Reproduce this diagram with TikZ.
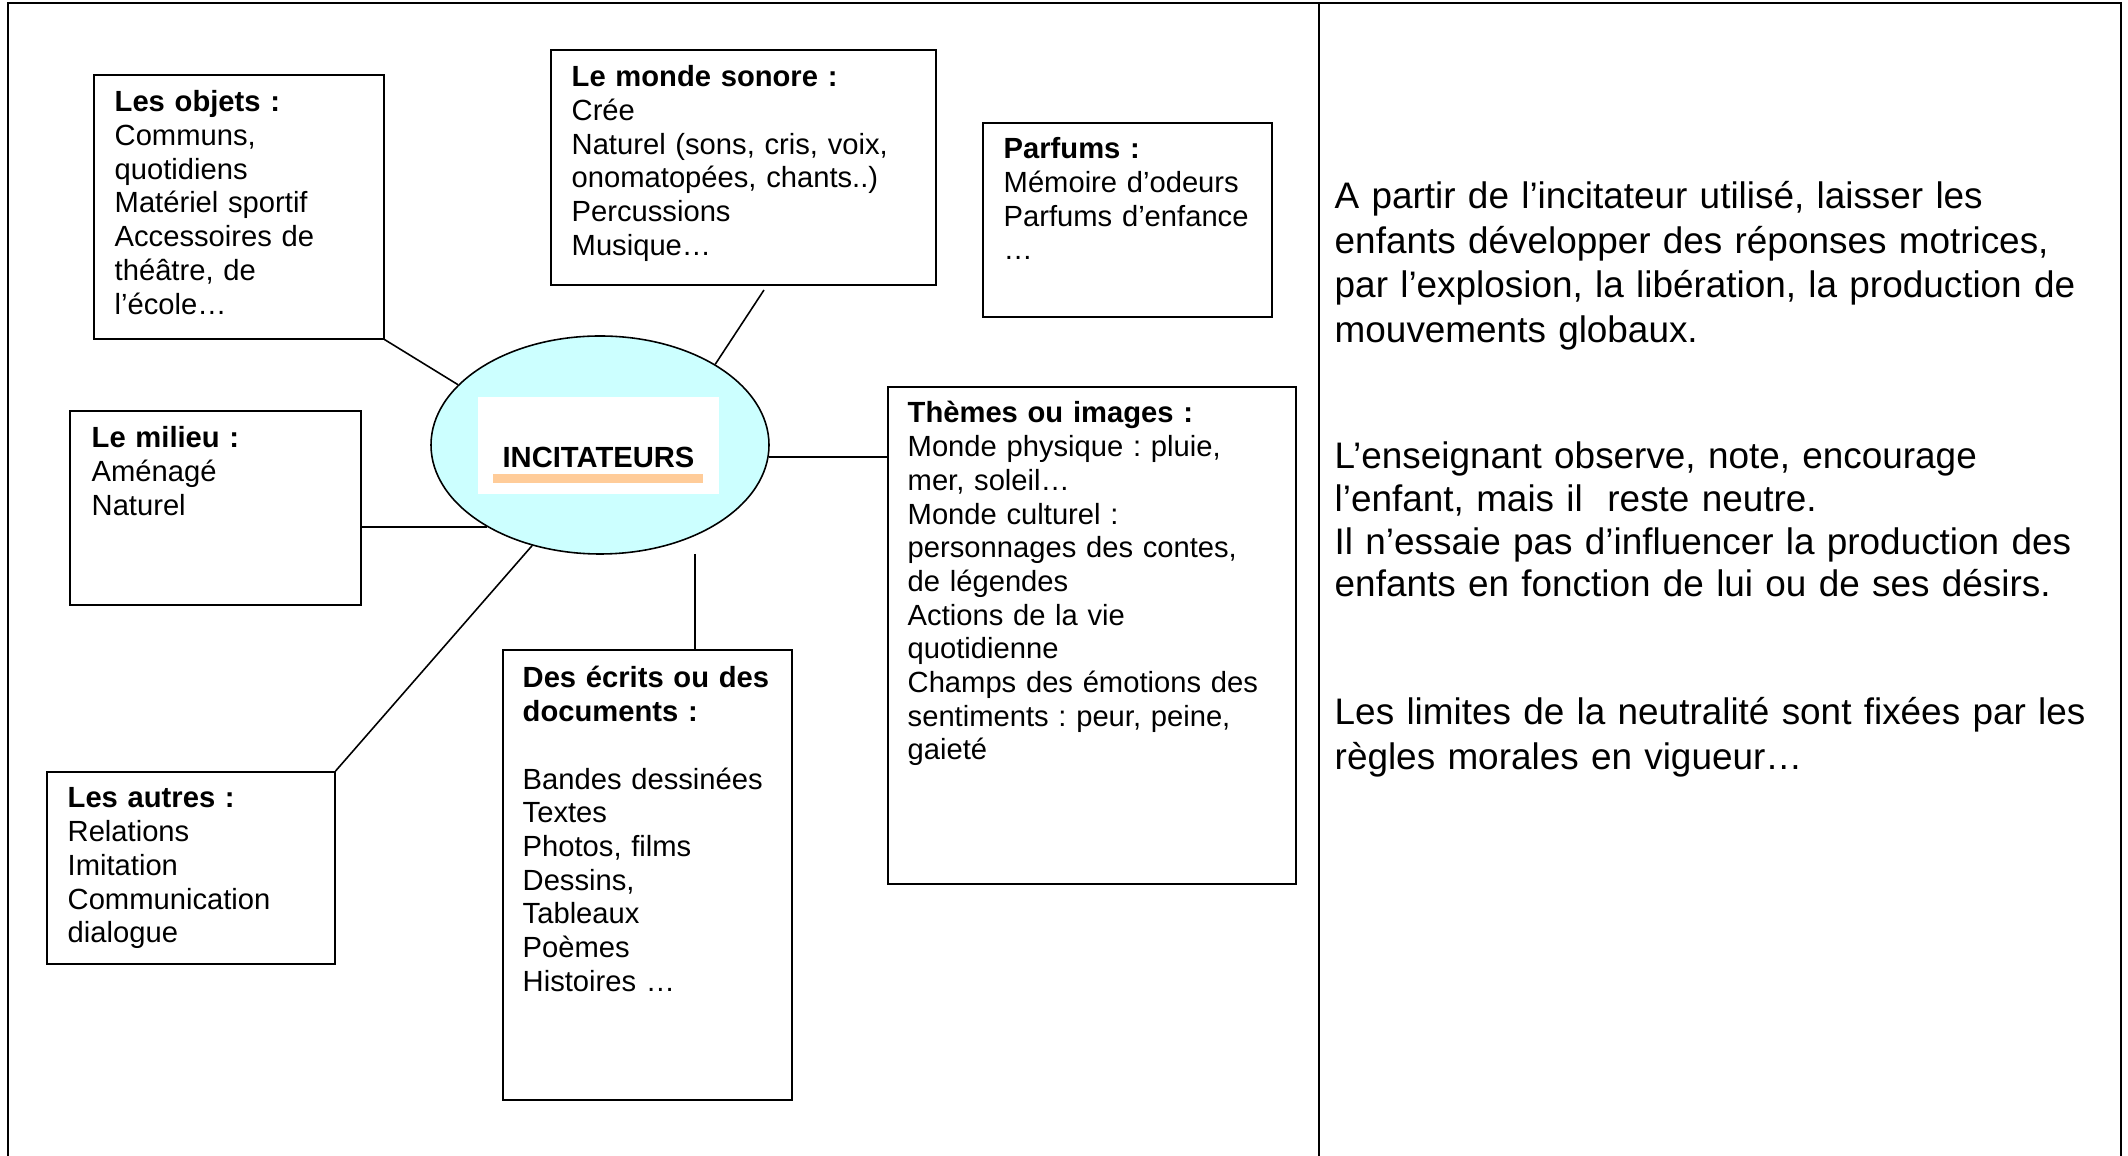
\documentclass[tikz,border=0pt]{standalone}
\usepackage{fontspec}
\setmainfont{Liberation Sans}
\usetikzlibrary{shapes.geometric}
\definecolor{bulle}{HTML}{CCFFFF}
\definecolor{peche}{HTML}{FFCC99}
\frenchspacing

\begin{document}
\begin{tikzpicture}[
  cadre/.style={draw,line width=0.45pt,anchor=north west,inner sep=0pt},
  texte/.style={anchor=base west,inner sep=0pt,text width=4.2cm,align=left,font=\fontsize{8.3}{9.58}\selectfont},
  droite/.style={anchor=base west,inner sep=0pt,text width=7.8cm,align=left,font=\fontsize{10.5}{12.7}\selectfont},
  lien/.style={line width=0.45pt}]
\useasboundingbox (0,0) rectangle (21.28,-11.56);
% table
\draw[line width=0.7pt] (0.08,-11.56) -- (0.08,-0.03) -- (21.21,-0.03) -- (21.21,-11.56);
\draw[line width=0.7pt] (13.19,-0.03) -- (13.19,-11.56);
% centre
\node[ellipse,draw,line width=0.45pt,fill=bulle,minimum width=3.38cm,minimum height=2.18cm] (incit) at (6.00,-4.45) {};
\node[fill=white,minimum width=2.41cm,minimum height=0.97cm,text height=0.64cm,text depth=0.2cm,inner sep=0pt,font=\fontsize{8.3}{9.58}\selectfont\bfseries] (incittxt) at (5.985,-4.455) {INCITATEURS};
\fill[peche] ([xshift=-1.055cm,yshift=-0.07cm]incittxt.base) rectangle ++(2.10,-0.09);
% boxes
\node[cadre,minimum width=2.90cm,minimum height=2.64cm] (objets) at (0.93,-0.74) {};
\node[texte] at ([shift={(0.21,-0.38)}]objets.north west) {\textbf{Les objets :}\\Communs,\\quotidiens\\Matériel sportif\\Accessoires de\\théâtre, de\\l’école…};
\node[cadre,minimum width=3.85cm,minimum height=2.35cm] (sonore) at (5.50,-0.49) {};
\node[texte] at ([shift={(0.21,-0.38)}]sonore.north west) {\textbf{Le monde sonore :}\\Crée\\Naturel (sons, cris, voix,\\onomatopées, chants..)\\Percussions\\Musique…};
\node[cadre,minimum width=2.89cm,minimum height=1.94cm] (parfums) at (9.82,-1.22) {};
\node[texte] at ([shift={(0.21,-0.37)}]parfums.north west) {\textbf{Parfums :}\\Mémoire d’odeurs\\Parfums d’enfance\\…};
\node[cadre,minimum width=4.08cm,minimum height=4.97cm] (themes) at (8.87,-3.86) {};
\node[texte] at ([shift={(0.20,-0.37)}]themes.north west) {\textbf{Thèmes ou images :}\\Monde physique : pluie,\\mer, soleil…\\Monde culturel :\\personnages des contes,\\de légendes\\Actions de la vie\\quotidienne\\Champs des émotions des\\sentiments : peur, peine,\\gaieté};
\node[cadre,minimum width=2.91cm,minimum height=1.94cm] (milieu) at (0.69,-4.10) {};
\node[texte] at ([shift={(0.22,-0.38)}]milieu.north west) {\textbf{Le milieu :}\\Aménagé\\Naturel};
\node[cadre,minimum width=2.88cm,minimum height=1.92cm] (autres) at (0.46,-7.71) {};
\node[texte] at ([shift={(0.21,-0.37)}]autres.north west) {\textbf{Les autres :}\\Relations\\Imitation\\Communication\\dialogue};
\node[cadre,minimum width=2.89cm,minimum height=4.50cm] (ecrits) at (5.02,-6.49) {};
\node[texte] at ([shift={(0.20,-0.39)}]ecrits.north west) {\textbf{Des écrits ou des}\\\textbf{documents :}\\~\\Bandes dessinées\\Textes\\Photos, films\\Dessins,\\Tableaux\\Poèmes\\Histoires …};
% links
\coordinate (sonorebas) at (7.64,-2.90);
\coordinate (ecritshaut) at (6.95,-5.54);
\draw[lien] (objets.south east) -- (incit.157);
\draw[lien] (incit.35) -- (sonorebas);
\draw[lien] (incit.-4) -- (incit.-4 -| themes.west);
\draw[lien] (milieu.east |- incit.216) -- (incit.216);
\draw[lien] (autres.north east) -- (incit.236);
\draw[lien] (ecritshaut) -- (ecritshaut |- ecrits.north);
% right column
\node[droite] at (13.34,-2.085) {A partir de l’incitateur utilisé, laisser les\\enfants développer des réponses motrices,\\par l’explosion, la libération, la production de\\mouvements globaux.};
\node[droite,font=\fontsize{10.5}{12.1}\selectfont] at (13.34,-4.69) {L’enseignant observe, note, encourage\\l’enfant, mais il~ reste neutre.\\Il n’essaie pas d’influencer la production des\\enfants en fonction de lui ou de ses désirs.};
\node[droite] at (13.34,-7.245) {Les limites de la neutralité sont fixées par les\\règles morales en vigueur…};
\end{tikzpicture}
\end{document}
